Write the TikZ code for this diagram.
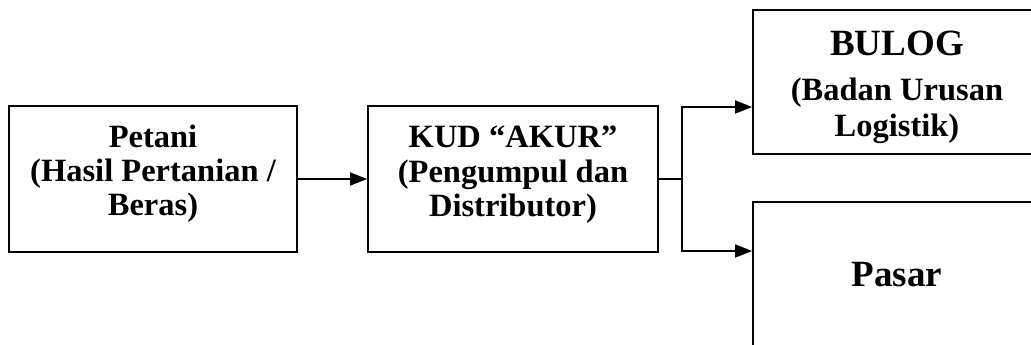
\documentclass[tikz,border=0pt]{standalone}
\usepackage{fontspec}
\setmainfont{Liberation Serif}
\usetikzlibrary{arrows.meta}
\begin{document}
\begin{tikzpicture}[x=1pt,y=-1pt,
  box/.style={draw,line width=1.8pt,inner sep=0pt},
  txt/.style={anchor=base,inner sep=0pt,font=\fontsize{32.5}{34}\selectfont\bfseries},
  big/.style={anchor=base,inner sep=0pt,font=\fontsize{37}{40}\selectfont\bfseries},
  conn/.style={line width=1.8pt,-{Triangle[length=17pt,width=13pt]}},
  plain/.style={line width=1.8pt}]
\useasboundingbox (0,0) rectangle (1031,345);
\clip (0,0) rectangle (1031,345);
% boxes
\node[box,minimum width=288pt,minimum height=146pt] (petani) at (153,179) {};
\node[box,minimum width=290pt,minimum height=146pt] (kud) at (513,179) {};
\node[box,minimum width=290pt,minimum height=144pt] (bulog) at (898,82) {};
\node[box,minimum width=290pt,minimum height=200pt] (pasar) at (898,302) {};
% texts
\node[txt] (p1) at (153,147) {Petani};
\node[txt] (p2) at (153,181) {(Hasil Pertanian /};
\node[txt] (p3) at (153,215) {Beras)};
\node[txt] (k1) at (513,147) {KUD “AKUR”};
\node[txt] (k2) at (513,182) {(Pengumpul dan};
\node[txt] (k3) at (513,216) {Distributor)};
\node[big] (b1) at (897,56) {BULOG};
\node[txt] (b2) at (897,100) {(Badan Urusan};
\node[txt] (b3) at (897,136) {Logistik)};
\node[big] (s1) at (897,286) {Pasar};
% connectors
\coordinate (split) at (682,179);
\coordinate (bulogIn) at (bulog.west |- 0,107);
\coordinate (pasarIn) at (pasar.west |- 0,251);
\draw[conn] (petani.east) -- (kud.west);
\draw[plain] (kud.east) -- (split);
\draw[conn] (split) |- (bulogIn);
\draw[conn] (split) |- (pasarIn);
\end{tikzpicture}
\end{document}
